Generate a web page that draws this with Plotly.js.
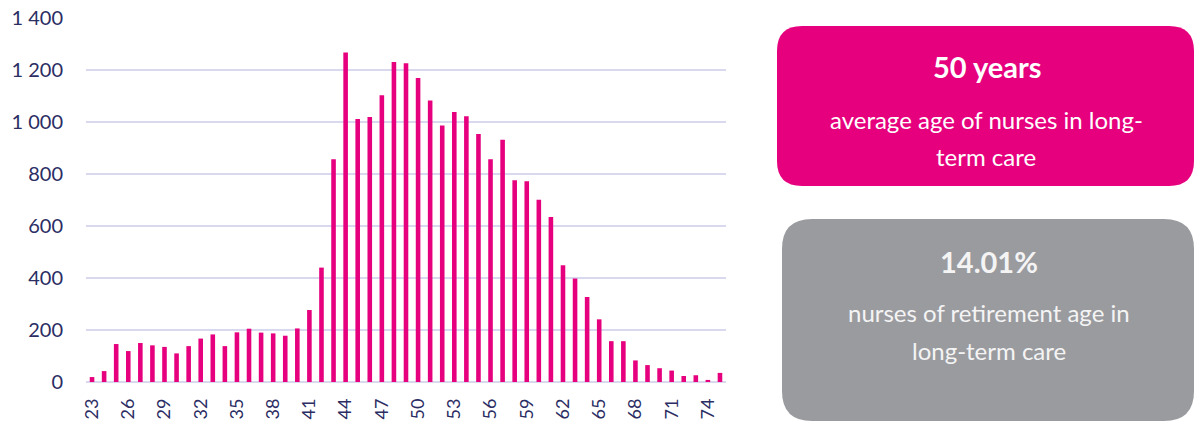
<!DOCTYPE html>
<html>
<head>
<meta charset="utf-8">
<script src="https://cdn.plot.ly/plotly-3.0.1.min.js"></script>
<style>
html,body{margin:0;padding:0;background:#fff;}
#chart{width:1195px;height:421px;}
</style>
</head>
<body>
<div id="chart"></div>
<script>
// ---- data ----
const ages = [23,24,25,26,27,28,29,30,31,32,33,34,35,36,37,38,39,40,41,42,43,44,45,46,47,48,49,50,51,52,53,54,55,56,57,58,59,60,61,62,63,64,65,66,67,68,69,70,71,72,73,74,75];
const nurses = [19,42,146,119,150,141,135,110,138,167,183,138,191,205,190,187,178,206,277,440,857,1267,1012,1019,1103,1231,1226,1169,1083,987,1038,1022,954,857,932,776,772,701,635,449,398,327,241,157,157,83,65,53,44,23,26,8,35];
const xTickVals = [23,26,29,32,35,38,41,44,47,50,53,56,59,62,65,68,71,74];
const xTickLabels = ['23','26','29','32','35','38','41','44','47','50','53','56','59','62','65','68','71','74'];
const yTickVals = [0,200,400,600,800,1000,1200,1400];

const box1Title = '50 years';
const box1Lines = ['average age of nurses in long-','term care'];
const box2Title = '14.01%';
const box2Lines = ['nurses of retirement age in','long-term care'];

// ---- layout helpers (pixel -> paper) ----
const L = 86, T = 18, W = 640, H = 364;
const px = x => (x - L) / W;
const py = y => (T + H - y) / H;
function rr(x0, y0, x1, y1, r) {
  const p = (x, y) => px(x) + ',' + py(y);
  return 'M' + p(x0 + r, y0) + ' L' + p(x1 - r, y0) + ' Q' + p(x1, y0) + ' ' + p(x1, y0 + r) +
    ' L' + p(x1, y1 - r) + ' Q' + p(x1, y1) + ' ' + p(x1 - r, y1) +
    ' L' + p(x0 + r, y1) + ' Q' + p(x0, y1) + ' ' + p(x0, y1 - r) +
    ' L' + p(x0, y0 + r) + ' Q' + p(x0, y0) + ' ' + p(x0 + r, y0) + ' Z';
}
const FONT = 'Lato, "Open Sans", sans-serif';
const navy = '#2B2D63';

function ann(text, x, y, size, bold, color) {
  return {
    xref: 'paper', yref: 'paper', x: px(x), y: py(y), xanchor: 'center', yanchor: 'middle',
    text: bold ? '<b>' + text + '</b>' : text, showarrow: false,
    font: {family: FONT, size: size, color: color}
  };
}

const annotations = [
  ann(box1Title, 987, 67, 29, true, '#FFFFFF'),
  ann(box1Lines[0], 986, 119, 24, false, '#FFFFFF'),
  ann(box1Lines[1], 986, 156, 24, false, '#FFFFFF'),
  ann(box2Title, 989, 261, 29, true, '#F4F4F4'),
  ann(box2Lines[0], 989, 312, 24, false, '#F4F4F4'),
  ann(box2Lines[1], 989, 350, 24, false, '#F4F4F4')
];

const shapes = [
  {type: 'path', xref: 'paper', yref: 'paper', path: rr(777, 26, 1194, 186, 25), fillcolor: '#E6007E', line: {width: 0}, layer: 'below'},
  {type: 'path', xref: 'paper', yref: 'paper', path: rr(782, 219, 1194, 421, 30), fillcolor: '#9A9B9F', line: {width: 0}, layer: 'below'}
];

const trace = {
  type: 'bar', x: ages, y: nurses,
  marker: {color: '#E6007E', line: {width: 0}},
  hoverinfo: 'x+y'
};

const layout = {
  width: 1195, height: 421,
  margin: {l: L, r: 1195 - L - W, t: T, b: 421 - T - H, pad: 0},
  paper_bgcolor: '#FFFFFF', plot_bgcolor: '#FFFFFF',
  separators: '. ',
  showlegend: false,
  bargap: 0.62,
  font: {family: FONT, color: navy},
  xaxis: {
    range: [22.5, 75.5],
    tickmode: 'array', tickvals: xTickVals, ticktext: xTickLabels,
    tickangle: -90, showgrid: false, zeroline: false, showline: false,
    ticks: '', ticklabelstandoff: 12,
    tickfont: {family: FONT, size: 18, color: navy}
  },
  yaxis: {
    range: [0, 1400], tickmode: 'array', tickvals: yTickVals,
    tickformat: ',d',
    showgrid: true, gridcolor: '#D8D8EE', gridwidth: 1.5,
    zeroline: true, zerolinecolor: '#D8D8EE', zerolinewidth: 1.5,
    showline: false, ticks: '', ticklabelstandoff: 22,
    tickfont: {family: FONT, size: 20, color: navy}
  },
  shapes: shapes,
  annotations: annotations
};

Plotly.newPlot('chart', [trace], layout, {displayModeBar: false, staticPlot: true});
</script>
</body>
</html>
